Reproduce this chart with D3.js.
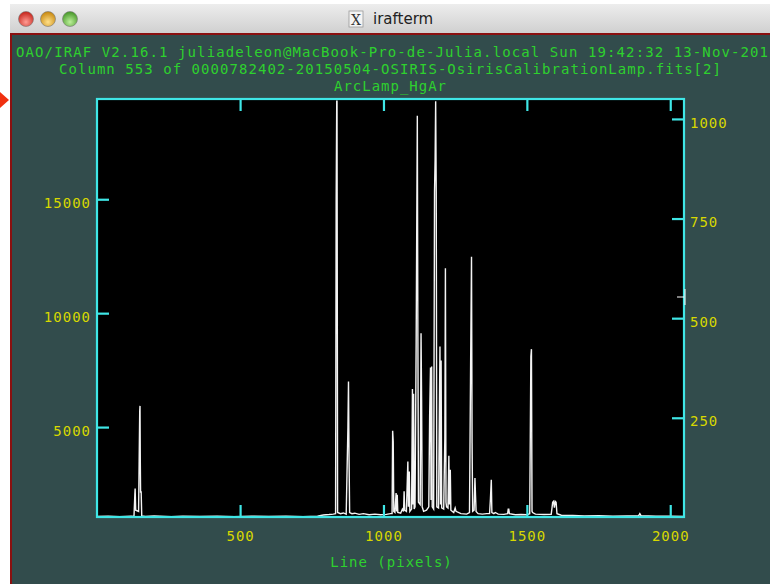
<!DOCTYPE html>
<html>
<head>
<meta charset="utf-8">
<script src="https://cdnjs.cloudflare.com/ajax/libs/d3/7.8.5/d3.min.js"></script>
<style>
  body { margin:0; background:#fff; overflow:hidden; }
  .mono { font-family:"DejaVu Sans Mono", monospace; font-size:14px; letter-spacing:1px; }
</style>
</head>
<body>
<div id="term"></div>
<script>
// spectrum: detector line (pixel) vs counts
var pixels = [1,40,80,120,130,133,134,136,146,148,150,151,152,153,155,157,170,
  200,260,300,360,420,480,540,600,660,720,770,790,810,825,833,835,837,838,840,850,860,870,876,878,880,882,
  890,900,915,930,950,970,990,1010,1025,1030,1032,1034,1036,1040,1044,1046,1048,1050,
  1060,1066,1070,1072,1074,1080,1085,1087,1090,1092,1098,1101,1103,1105,1107,
  1110,1114,1118,1120,1122,1128,1131,1133,1135,1140,1150,1158,1161,1164,1166,1168,1170,
  1175,1178,1180,1182,1184,1186,1192,1197,1199,1201,1203,1210,1214,1216,1218,1220,
  1225,1228,1230,1233,1235,1245,1250,1253,1270,1290,1300,1304,1307,1309,1311,1316,1319,1321,1323,1330,
  1345,1360,1370,1373,1376,1378,1385,1390,1400,1420,1433,1435,1437,1439,1460,1480,1500,1510,1514,1516,1518,1520,
  1530,1560,1585,1590,1593,1596,1599,1602,1605,1620,1660,1700,1750,1800,1850,1890,1894,1898,1950,2000,2048];
var counts = [1075,1090,1070,1085,1080,2050,2300,1350,1300,3520,5700,5930,3500,2150,2150,1100,1080,
  1095,1070,1090,1075,1085,1070,1090,1075,1085,1070,1090,1140,1160,1180,1200,15000,19300,19300,1250,1200,1230,1180,4970,7000,3570,1250,
  1200,1220,1170,1200,1150,1180,1150,1170,1200,1200,4840,4370,1300,1250,2100,1300,2030,1250,
  1220,1400,1300,2180,1350,1300,3490,1500,3050,1300,1400,6670,1600,6460,1400,
  1500,8750,18670,9000,1700,1600,9120,6200,1500,1300,1350,1500,5510,7615,1800,7660,1500,
  1400,15330,16720,19300,15330,1500,1450,8535,1600,7920,1450,1400,4520,11970,1700,1500,
  1450,3740,1600,3130,1350,1250,1450,1300,1200,1180,1250,7920,12480,4300,1300,1350,2760,2000,1300,1200,
  1180,1200,1200,1855,2690,1250,1200,1250,1180,1170,1200,1400,1400,1200,1150,1160,1150,1200,8100,8420,1300,1250,
  1180,1160,1170,1700,1740,1460,1740,1700,1200,1130,1120,1100,1110,1090,1100,1110,1200,1110,1090,1085,1080];

var xTicks = [500, 1000, 1500, 2000];
var yTicks = [5000, 10000, 15000];
var rightTicks = [250, 500, 750, 1000];
var headerLines = [
  "OAO/IRAF V2.16.1 juliadeleon@MacBook-Pro-de-Julia.local Sun 19:42:32 13-Nov-201",
  "Column 553 of 0000782402-20150504-OSIRIS-OsirisCalibrationLamp.fits[2]",
  "ArcLamp_HgAr"
];
var xTitle = "Line (pixels)";

var width = 770, height = 584;
var plot = {left: 97, right: 684, top: 99, bottom: 517};
var cyan = "#3fe6e6", yellow = "#d8d800", green = "#2ed12e", slate = "#324c4c";

var svg = d3.select("#term").append("svg")
    .attr("width", width)
    .attr("height", height);

var defs = svg.append("defs");
var tg = defs.append("linearGradient").attr("id", "titlebar")
    .attr("x1", 0).attr("y1", 0).attr("x2", 0).attr("y2", 1);
tg.append("stop").attr("offset", "0%").attr("stop-color", "#ededed");
tg.append("stop").attr("offset", "100%").attr("stop-color", "#cfcfcf");

function ball(id, c1, c2) {
  var g = defs.append("radialGradient").attr("id", id)
      .attr("cx", "50%").attr("cy", "70%").attr("r", "65%");
  g.append("stop").attr("offset", "0%").attr("stop-color", c1);
  g.append("stop").attr("offset", "100%").attr("stop-color", c2);
}
ball("bRed", "#ff9c94", "#c7281f");
ball("bYel", "#ffe08a", "#c98a12");
ball("bGrn", "#bdf09a", "#4a9a2c");

defs.append("clipPath").attr("id", "plotclip")
  .append("rect")
    .attr("x", plot.left).attr("y", plot.top)
    .attr("width", plot.right - plot.left).attr("height", plot.bottom - plot.top);

// window chrome
svg.append("rect").attr("x", 10).attr("y", 4).attr("width", width - 10).attr("height", 30)
    .style("fill", "url(#titlebar)");
svg.append("rect").attr("x", 10).attr("y", 33).attr("width", width - 10).attr("height", height - 33)
    .style("fill", "#8a1010");
svg.append("rect").attr("x", 12).attr("y", 35).attr("width", width - 12).attr("height", height - 35)
    .style("fill", slate);

[["bRed", 26], ["bYel", 48], ["bGrn", 70]].forEach(function(b) {
  svg.append("circle").attr("cx", b[1]).attr("cy", 19).attr("r", 7.5)
      .style("fill", "url(#" + b[0] + ")").style("stroke", "#777").style("stroke-width", 0.6);
});

svg.append("rect").attr("x", 349).attr("y", 11).attr("width", 14).attr("height", 16)
    .style("fill", "#f4f4f4").style("stroke", "#999").style("stroke-width", 0.8);
svg.append("text").attr("x", 356).attr("y", 25).attr("text-anchor", "middle")
    .style("font-family", "DejaVu Serif, serif").style("font-size", "14px").style("fill", "#333")
    .text("X");
svg.append("text").attr("x", 373).attr("y", 24)
    .style("font-family", "DejaVu Sans, sans-serif").style("font-size", "15px").style("fill", "#222")
    .text("irafterm");

// red pointer at the left edge
svg.append("path").attr("d", "M0,92 L9,100 L0,108 Z").style("fill", "#f03010");

// header
var headX = [[16, 753], [59, 663], [334, 113]];
headerLines.forEach(function(s, i) {
  svg.append("text").attr("class", "mono")
      .attr("x", headX[i][0]).attr("y", 57 + i * 17)
      .attr("textLength", headX[i][1]).attr("lengthAdjust", "spacing")
      .style("fill", green)
      .text(s);
});

// scales
var x = d3.scaleLinear().domain([1, 2048]).range([plot.left, plot.right]);
var y = d3.scaleLinear().domain([1053, 19400]).range([plot.bottom, plot.top]);
var yRight = d3.scaleLinear().domain([1, 1050]).range([plot.bottom, plot.top]);

svg.append("rect")
    .attr("x", plot.left).attr("y", plot.top)
    .attr("width", plot.right - plot.left).attr("height", plot.bottom - plot.top)
    .style("fill", "#000");

// spectrum
var line = d3.line()
    .x(function(d, i) { return x(pixels[i]); })
    .y(function(d, i) { return y(counts[i]); });
svg.append("path")
    .datum(counts)
    .attr("clip-path", "url(#plotclip)")
    .attr("d", line)
    .style("fill", "none")
    .style("stroke", "#f4f4f4")
    .style("stroke-width", 1.4);

// axes, ticks point inward like IRAF
function styleAxis(g) {
  g.select(".domain").remove();
  g.selectAll(".tick line").style("stroke", cyan).style("stroke-width", 2.2);
  g.selectAll(".tick text").attr("class", "mono").style("fill", yellow);
}

var fmt = d3.format("d");
svg.append("g").attr("transform", "translate(0," + plot.bottom + ")")
    .call(d3.axisBottom(x).tickValues(xTicks).tickSize(-12).tickPadding(14).tickFormat(fmt))
    .call(styleAxis);
svg.append("g").attr("transform", "translate(0," + plot.top + ")")
    .call(d3.axisTop(x).tickValues(xTicks).tickSize(-12).tickFormat(""))
    .call(styleAxis);
svg.append("g").attr("transform", "translate(" + plot.left + ",0)")
    .call(d3.axisLeft(y).tickValues(yTicks).tickSize(-12).tickPadding(6).tickFormat(fmt))
    .call(styleAxis)
    .selectAll(".tick text").attr("dy", "0.58em");
svg.append("g").attr("transform", "translate(" + plot.right + ",0)")
    .call(d3.axisRight(yRight).tickValues(rightTicks).tickSize(-12).tickPadding(6).tickFormat(fmt))
    .call(styleAxis)
    .selectAll(".tick text").attr("dy", "0.58em");

svg.append("rect")
    .attr("x", plot.left).attr("y", plot.top)
    .attr("width", plot.right - plot.left).attr("height", plot.bottom - plot.top)
    .style("fill", "none").style("stroke", cyan).style("stroke-width", 2.2);

// graphics cursor left on the right edge
svg.append("line").attr("x1", plot.right - 7).attr("x2", plot.right).attr("y1", 297).attr("y2", 297)
    .style("stroke", "#fff").style("stroke-width", 1);
svg.append("line").attr("x1", plot.right + 1).attr("x2", plot.right + 1).attr("y1", 289).attr("y2", 305)
    .style("stroke", "#fff").style("stroke-width", 1);

svg.append("text").attr("class", "mono")
    .attr("x", (plot.left + plot.right) / 2 + 1).attr("y", 567)
    .attr("text-anchor", "middle")
    .style("fill", green)
    .text(xTitle);
</script>
</body>
</html>
